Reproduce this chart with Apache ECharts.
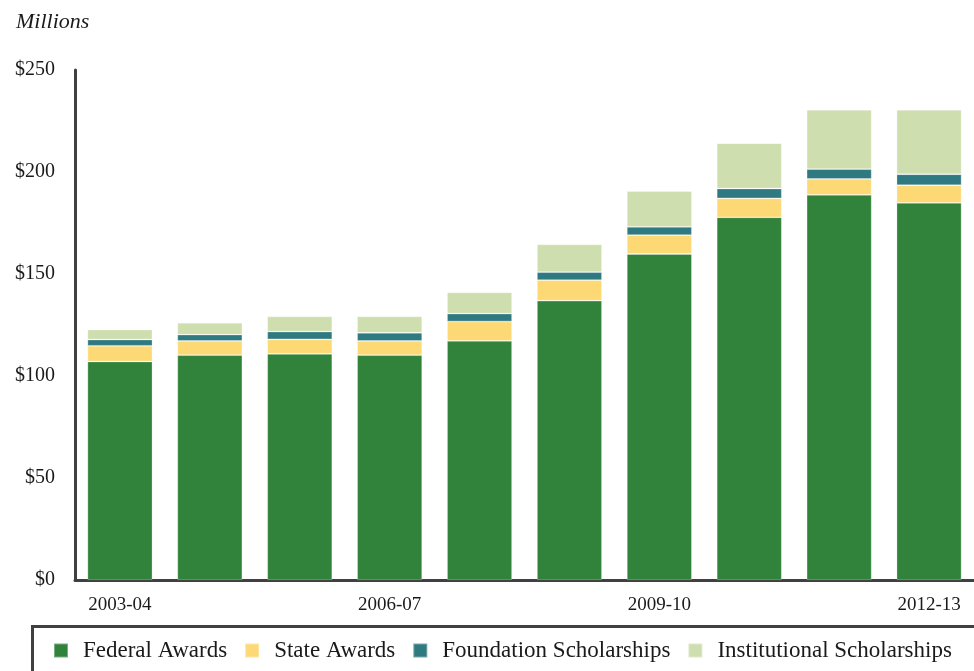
<!DOCTYPE html>
<html>
<head>
<meta charset="utf-8">
<script src="https://cdn.jsdelivr.net/npm/echarts@6/dist/echarts.min.js"></script>
<style>
html,body{margin:0;padding:0;background:#fff;}
#chart{width:974px;height:671px;}
</style>
</head>
<body>
<div id="chart"></div>
<script>
const categories = ['2003-04','2004-05','2005-06','2006-07','2007-08','2008-09','2009-10','2010-11','2011-12','2012-13'];
const federalAwards = [107.1, 110.2, 110.8, 110.2, 117.2, 136.9, 159.8, 177.8, 188.8, 184.9];
const stateAwards = [7.7, 7.0, 7.2, 7.0, 9.5, 10.1, 9.3, 9.3, 7.8, 8.6];
const foundationScholarships = [3.1, 3.1, 3.8, 4.0, 3.9, 3.9, 4.0, 4.8, 4.8, 5.4];
const institutionalScholarships = [4.9, 5.8, 7.4, 8.0, 10.4, 13.6, 17.5, 22.2, 29.1, 31.6];
const shownCategoryLabels = ['2003-04','2006-07','2009-10','2012-13'];

const FONT = '"Liberation Serif", "DejaVu Serif", serif';
const chart = echarts.init(document.getElementById('chart'), null, {renderer: 'canvas'});

function barSeries(name, data, color) {
  return {
    name: name,
    type: 'bar',
    stack: 'total',
    data: data,
    barWidth: 65,
    itemStyle: {color: color, borderColor: 'rgba(255,255,255,0.35)', borderWidth: 0.8},
    emphasis: {disabled: true}
  };
}

chart.setOption({
  animation: false,
  backgroundColor: '#ffffff',
  textStyle: {fontFamily: FONT},
  grid: {left: 75, right: 0, top: 70, bottom: 91, containLabel: false},
  graphic: [
    {
      type: 'text', left: 16, top: 11,
      style: {text: 'Millions', font: 'italic 22px ' + FONT, fill: '#1a1a1a'}
    },
    {
      type: 'rect', z: 0, silent: true,
      shape: {x: 32.5, y: 626.5, width: 1000, height: 100},
      style: {fill: 'none', stroke: '#404040', lineWidth: 3}
    }
  ],
  legend: {
    left: 48, top: 634,
    padding: 5,
    icon: 'rect', itemWidth: 14, itemHeight: 14, itemGap: 17,
    selectedMode: false,
    textStyle: {fontFamily: FONT, fontSize: 23, color: '#1a1a1a', padding: [0, 0, 0, 10], lineHeight: 23},
    data: ['Federal Awards', 'State Awards', 'Foundation Scholarships', 'Institutional Scholarships']
  },
  xAxis: {
    type: 'category',
    data: categories,
    axisLine: {show: true, lineStyle: {color: '#404040', width: 3}},
    axisTick: {show: false},
    axisLabel: {
      interval: 0,
      fontFamily: FONT, fontSize: 19, color: '#1a1a1a', margin: 16,
      formatter: function (v) { return shownCategoryLabels.indexOf(v) >= 0 ? v : ''; }
    }
  },
  yAxis: {
    type: 'value',
    min: 0, max: 250, interval: 50,
    axisLine: {show: true, lineStyle: {color: '#404040', width: 3}},
    axisTick: {show: false},
    splitLine: {show: false},
    axisLabel: {
      fontFamily: FONT, fontSize: 20, color: '#1a1a1a', margin: 20,
      formatter: function (v) { return '$' + v; }
    }
  },
  series: [
    barSeries('Federal Awards', federalAwards, '#31823A'),
    barSeries('State Awards', stateAwards, '#FDD976'),
    barSeries('Foundation Scholarships', foundationScholarships, '#2F7A80'),
    barSeries('Institutional Scholarships', institutionalScholarships, '#CFDEAF')
  ]
});
</script>
</body>
</html>
